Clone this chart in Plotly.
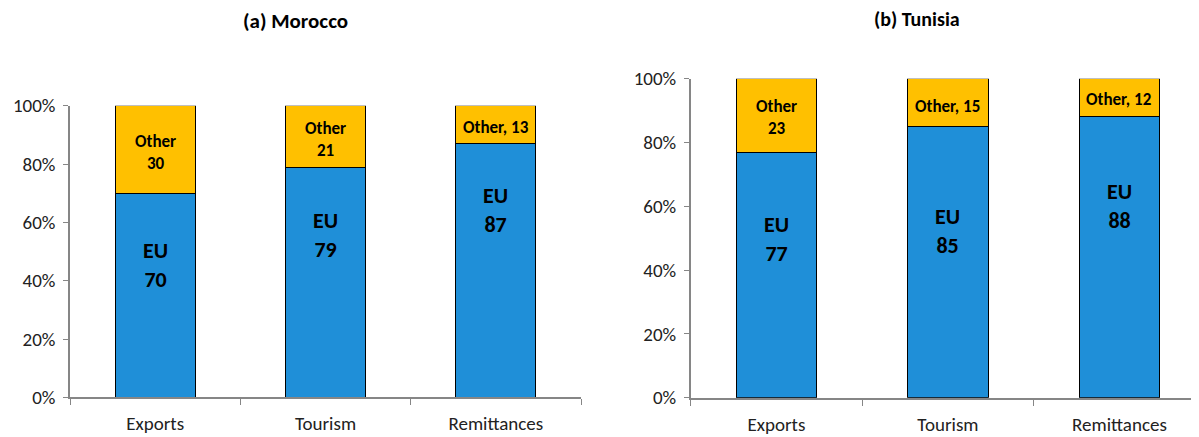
import plotly.graph_objects as go

categories = ["Exports", "Tourism", "Remittances"]
morocco_eu = [70, 79, 87]
morocco_other = [30, 21, 13]
tunisia_eu = [77, 85, 88]
tunisia_other = [23, 15, 12]
morocco_other_text = ["Other<br>30", "Other<br>21", "Other, 13"]
tunisia_other_text = ["Other<br>23", "Other, 15", "Other, 12"]
y_ticks = [0, 20, 40, 60, 80, 100]
y_tick_text = [f"{v}%" for v in y_ticks]

# label placement (layout only)
morocco_eu_label_y = [45.4, 55.7, 64.3]
morocco_other_label_y = [84.0, 88.6, 92.6]
tunisia_eu_label_y = [49.6, 52.3, 60.2]
tunisia_other_label_y = [87.8, 91.4, 93.5]

BLUE = "#1F8FD8"
GOLD = "#FFC000"
FONT = "Carlito, Calibri, Lato, sans-serif"
W, H = 1199, 437
DX, DY = 8, 8  # page offset compensation (body margin)


def px_x(p):
    return (p - DX) / W


def px_y(p):
    return 1 - (p - DY) / H


fig = go.Figure()
for xa, ya, eu, oth in [("x", "y", morocco_eu, morocco_other), ("x2", "y2", tunisia_eu, tunisia_other)]:
    fig.add_trace(go.Bar(x=categories, y=eu, marker=dict(color=BLUE, line=dict(color="black", width=1)),
                         width=0.47, xaxis=xa, yaxis=ya, showlegend=False, hoverinfo="skip"))
    fig.add_trace(go.Bar(x=categories, y=oth, marker=dict(color=GOLD, line=dict(color="black", width=1)),
                         width=0.47, xaxis=xa, yaxis=ya, showlegend=False, hoverinfo="skip"))

annotations = []
for xr, yr, eu, oth_txt, eu_y, oth_y in [
    ("x", "y", morocco_eu, morocco_other_text, morocco_eu_label_y, morocco_other_label_y),
    ("x2", "y2", tunisia_eu, tunisia_other_text, tunisia_eu_label_y, tunisia_other_label_y),
]:
    for i, c in enumerate(categories):
        annotations.append(dict(x=c, y=eu_y[i], xref=xr, yref=yr, text=f"<b>EU<br>{eu[i]}</b>",
                                showarrow=False, font=dict(family=FONT, size=22, color="black")))
        annotations.append(dict(x=c, y=oth_y[i], xref=xr, yref=yr, text=f"<b>{oth_txt[i]}</b>",
                                showarrow=False, font=dict(family=FONT, size=17, color="black")))

annotations.append(dict(x=px_x(295), y=px_y(21), xref="paper", yref="paper", text="<b>(a) Morocco</b>",
                        xanchor="center", yanchor="middle",
                        showarrow=False, font=dict(family=FONT, size=21, color="black")))
annotations.append(dict(x=px_x(917), y=px_y(19.5), xref="paper", yref="paper", text="<b>(b) Tunisia</b>",
                        xanchor="center", yanchor="middle",
                        showarrow=False, font=dict(family=FONT, size=20, color="black")))

xcommon = dict(type="category", showline=True, linecolor="#868686", linewidth=2, ticks="outside",
               tickson="boundaries", ticklen=6, tickcolor="#868686", showgrid=False, automargin=False,
               ticklabelstandoff=8,
               tickfont=dict(family=FONT, size=19, color="#222"), fixedrange=True)
ycommon = dict(range=[0, 100], tickvals=y_ticks, ticktext=y_tick_text, showline=True, linecolor="#868686",
               linewidth=1.5, ticks="outside", ticklen=5, tickcolor="#868686", showgrid=False, zeroline=False,
               automargin=False, ticklabelstandoff=4, tickfont=dict(family=FONT, size=19, color="#222"))

cat_px = 171.5
x2_start = 690.7
x2_end_range = -0.5 + (W - (x2_start - DX)) / cat_px

fig.update_layout(
    width=W, height=H, margin=dict(l=0, r=0, t=0, b=0, pad=0, autoexpand=False),
    plot_bgcolor="white", paper_bgcolor="white", barmode="stack",
    xaxis=dict(domain=[px_x(70), px_x(581)], range=[-0.5, 2.5], anchor="y", **xcommon),
    yaxis=dict(domain=[px_y(397.3), px_y(105.8)], anchor="x", **ycommon),
    xaxis2=dict(domain=[px_x(x2_start), 1.0], range=[-0.5, x2_end_range], anchor="y2", **xcommon),
    yaxis2=dict(domain=[px_y(397.7), px_y(78.7)], anchor="x2", **ycommon),
    annotations=annotations,
)

fig.write_html("out.html")
